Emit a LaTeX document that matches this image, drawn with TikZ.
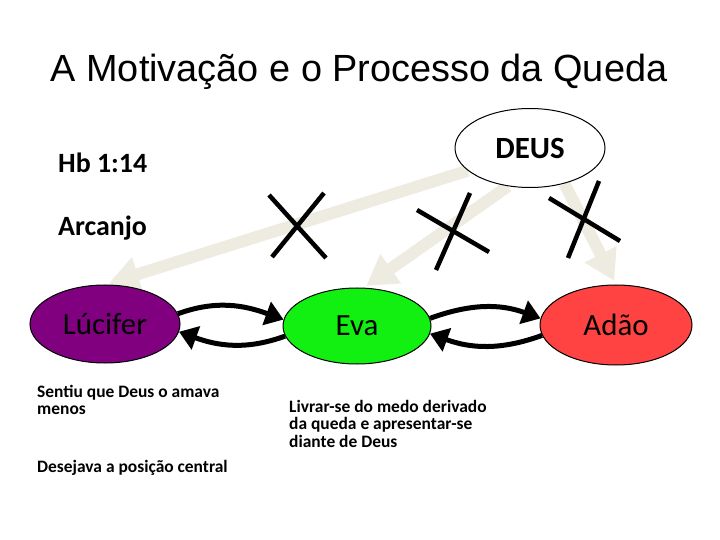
\documentclass[tikz,border=0pt]{standalone}
\usepackage{fontspec}
\setmainfont{Carlito}
\newfontfamily\arialfont{Liberation Sans}
\usepackage{tikz}
\usetikzlibrary{arrows.meta, positioning, backgrounds, shapes.geometric}
\definecolor{lightbeige}{HTML}{EEECE1}
\definecolor{luciferpurple}{HTML}{800080}
\definecolor{evagreen}{HTML}{11F011}
\definecolor{adaored}{HTML}{FF4343}
\tikzset{
  being/.style={ellipse, draw=black, line width=1bp, inner sep=0pt,
    minimum width=150bp, minimum height=78bp, font=\fontsize{31}{33}\selectfont},
  heading/.style={anchor=base west, inner sep=0pt, font=\fontsize{28}{30}\selectfont\bfseries},
  note/.style={anchor=base west, inner sep=0pt, align=left,
    font=\fontsize{17.5}{17.5}\selectfont\bfseries},
  blocked/.style={line width=12bp, lightbeige, -{Triangle[length=30bp, width=34bp]}},
  swing/.style={line width=5bp, -{Triangle[length=18bp, width=24bp]}},
  cross/.style={line width=4.5bp}
}

\begin{document}
\begin{tikzpicture}[x=1bp, y=1bp]
  \useasboundingbox (0,0) rectangle (720,-540);
  \node[anchor=base, inner sep=0pt, font=\arialfont\fontsize{38}{40}\selectfont] (title) at (359,-82)
    {A Motivação e o Processo da Queda};

  \node[heading] (hb) at (58,-173) {Hb 1:14};
  \node[heading] (arcanjo) at (58,-236) {Arcanjo};

  \node[being, fill=white, minimum height=79bp, font=\fontsize{31}{33}\selectfont\bfseries] (deus) at (530,-148) {DEUS};
  \node[being, fill=luciferpurple] (lucifer) at (105,-324) {Lúcifer};
  \node[being, fill=evagreen, minimum width=148bp, minimum height=76bp] (eva) at (357,-326) {Eva};
  \node[being, fill=adaored, minimum width=152bp, minimum height=80bp] (adao) at (616,-325) {Adão};

  \node[note] (sentiu) at (37,-414.5) {Sentiu que Deus o amava\\menos};
  \node[note] (desejava) at (37,-472) {Desejava a posição central};
  \node[note] (livrar) at (289,-447) {Livrar-se do medo derivado\\da queda e apresentar-se\\diante de Deus};

  % blocked paths from DEUS
  \begin{scope}[on background layer]
    \draw[blocked, shorten >=4bp] (deus.200) -- (lucifer.north);
    \draw[blocked, shorten >=3bp] (deus.240) -- (eva.80);
    \draw[blocked, shorten >=4bp] (deus.-46) -- (adao.north);
  \end{scope}

  \draw[cross] (269,-195) -- (326,-258);
  \draw[cross] (324,-193) -- (272,-257);
  \draw[cross] (470,-193) -- (436,-270);
  \draw[cross] (417,-210) -- (489,-252);
  \draw[cross] (599,-181) -- (568,-258);
  \draw[cross] (549,-198) -- (620,-241);

  % exchanges
  \draw[swing] (lucifer.8) to[out=20, in=160] (eva.175);
  \draw[swing] (eva.-172) to[out=-160, in=-20] (lucifer.-6);
  \draw[swing] (eva.6) to[out=20, in=160] (adao.175);
  \draw[swing] (adao.-172) to[out=-160, in=-20] (eva.-6);
\end{tikzpicture}
\end{document}
